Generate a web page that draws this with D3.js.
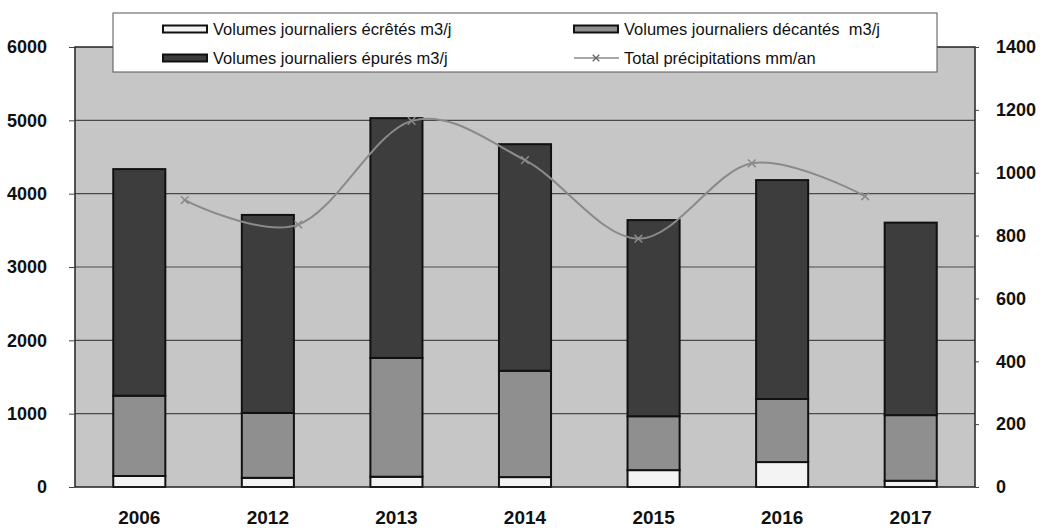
<!DOCTYPE html>
<html>
<head>
<meta charset="utf-8">
<script src="https://cdn.jsdelivr.net/npm/d3@7"></script>
<style>
  body { margin: 0; background: #fff; }
  svg { display: block; font-family: "Liberation Sans", Arial, sans-serif; }
</style>
</head>
<body>
<svg id="chart" width="1042" height="532"></svg>
<script>
// data
var years = ["2006", "2012", "2013", "2014", "2015", "2016", "2017"];
var ecretes = [150, 125, 140, 135, 230, 340, 85];
var decantes = [1095, 885, 1620, 1450, 735, 860, 895];
var epures = [3090, 2700, 3270, 3090, 2675, 2985, 2625];
var precip = [913, 835, 1165, 1040, 790, 1030, 925];
var leftTicks = [0, 1000, 2000, 3000, 4000, 5000, 6000];
var rightTicks = [0, 200, 400, 600, 800, 1000, 1200, 1400];

var svg = d3.select("#chart");
var plotL = 75, plotR = 975, plotT = 47, plotB = 487;

var x = d3.scaleBand().domain(years).range([plotL, plotR])
  .paddingInner(0.595).paddingOuter(0.2975);
// line series sits on its own (offset) category axis
var xLine = d3.scalePoint().domain(years)
  .range([plotL + (plotR - plotL) * 0.122, plotL + (plotR - plotL) * 0.878]);
var y = d3.scaleLinear().domain([0, 6000]).range([plotB, plotT]);
var y2 = d3.scaleLinear().domain([0, 1400]).range([plotB, plotT]);

// plot area
svg.append("rect")
  .attr("x", plotL).attr("y", plotT)
  .attr("width", plotR - plotL).attr("height", plotB - plotT)
  .attr("fill", "#c6c6c6");

// gridlines
svg.append("g").selectAll("line")
  .data(leftTicks.slice(1, -1))
  .enter().append("line")
  .attr("x1", plotL).attr("x2", plotR)
  .attr("y1", d => y(d)).attr("y2", d => y(d))
  .attr("stroke", "#4a4a4a").attr("stroke-width", 1.2);

// stacked bars
var stack = years.map((yr, i) => {
  var a = ecretes[i], b = a + decantes[i], c = b + epures[i];
  return [
    { yr: yr, y0: 0, y1: a, fill: "#f3f3f3" },
    { yr: yr, y0: a, y1: b, fill: "#8f8f8f" },
    { yr: yr, y0: b, y1: c, fill: "#3d3d3d" }
  ];
}).flat();

svg.append("g").selectAll("rect")
  .data(stack)
  .enter().append("rect")
  .attr("x", d => x(d.yr))
  .attr("width", x.bandwidth())
  .attr("y", d => y(d.y1))
  .attr("height", d => y(d.y0) - y(d.y1))
  .attr("fill", d => d.fill)
  .attr("stroke", "#111").attr("stroke-width", 2);

// precipitation line
var line = d3.line()
  .x((d, i) => xLine(years[i]))
  .y(d => y2(d))
  .curve(d3.curveCatmullRom.alpha(0));

svg.append("path")
  .datum(precip)
  .attr("d", line)
  .attr("fill", "none")
  .attr("stroke", "#8a8a8a").attr("stroke-width", 2);

svg.append("g").selectAll("path")
  .data(precip)
  .enter().append("path")
  .attr("transform", (d, i) => "translate(" + xLine(years[i]) + "," + y2(d) + ")")
  .attr("d", d3.symbol(d3.symbolX, 40))
  .attr("stroke", "#8a8a8a").attr("stroke-width", 1.5).attr("fill", "none");

// frame
svg.append("rect")
  .attr("x", plotL).attr("y", plotT)
  .attr("width", plotR - plotL).attr("height", plotB - plotT)
  .attr("fill", "none").attr("stroke", "#222").attr("stroke-width", 1.5);

// axes
var yAxisL = d3.axisLeft(y).tickValues(leftTicks).tickFormat(d3.format("d"))
  .tickSize(6).tickPadding(22);
var yAxisR = d3.axisRight(y2).tickValues(rightTicks).tickFormat(d3.format("d"))
  .tickSize(4).tickPadding(17);
var xAxis = d3.axisBottom(x).tickSize(0).tickPadding(24);

function styleAxis(g, size) {
  g.select(".domain").remove();
  g.selectAll(".tick line").attr("stroke", "#444");
  g.selectAll("text")
    .attr("font-size", size)
    .attr("fill", "#111")
    .style("font-weight", "600")
    .style("font-family", "'Liberation Sans', Arial, sans-serif");
}

svg.append("g").attr("transform", "translate(" + plotL + ",0)").call(yAxisL).call(styleAxis, 18);
svg.append("g").attr("transform", "translate(" + plotR + ",0)").call(yAxisR).call(styleAxis, 18);
svg.append("g").attr("transform", "translate(0," + plotB + ")").call(xAxis).call(styleAxis, 19);

// legend
var lg = svg.append("g");
lg.append("rect")
  .attr("x", 113).attr("y", 13).attr("width", 824).attr("height", 59)
  .attr("fill", "#fff").attr("stroke", "#555").attr("stroke-width", 1);

var legendItems = [
  { label: "Volumes journaliers écrêtés m3/j", fill: "#f3f3f3", col: 0, row: 0 },
  { label: "Volumes journaliers décantés  m3/j", fill: "#8f8f8f", col: 1, row: 0 },
  { label: "Volumes journaliers épurés m3/j", fill: "#3d3d3d", col: 0, row: 1 },
  { label: "Total précipitations mm/an", line: true, col: 1, row: 1 }
];
var colX = [163, 574];
var rowY = [29, 58];

legendItems.forEach(function(d) {
  var gx = colX[d.col], gy = rowY[d.row];
  if (d.line) {
    lg.append("line").attr("x1", gx).attr("x2", gx + 45)
      .attr("y1", gy).attr("y2", gy)
      .attr("stroke", "#8a8a8a").attr("stroke-width", 1.5);
    lg.append("path").attr("transform", "translate(" + (gx + 22) + "," + gy + ")")
      .attr("d", d3.symbol(d3.symbolX, 30))
      .attr("stroke", "#666").attr("stroke-width", 1.3).attr("fill", "none");
  } else {
    lg.append("rect").attr("x", gx).attr("y", gy - 3.5)
      .attr("width", 44).attr("height", 7)
      .attr("fill", d.fill).attr("stroke", "#111").attr("stroke-width", 2);
  }
  lg.append("text").attr("x", gx + (d.line ? 50 : 50)).attr("y", gy + 6)
    .attr("font-size", 16.5).attr("fill", "#111")
    .style("white-space", "pre")
    .text(d.label);
});
</script>
</body>
</html>
